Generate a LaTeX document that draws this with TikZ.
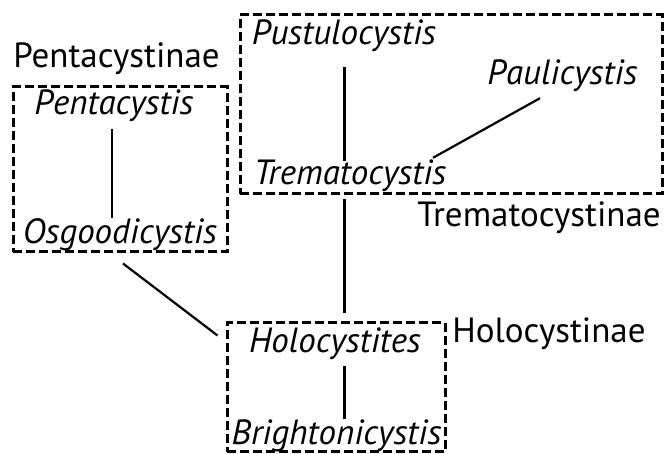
\documentclass[tikz,border=0pt]{standalone}
\usepackage{fontspec}
\setmainfont{PT Sans}
\usetikzlibrary{calc}
\tikzset{
  taxon/.style={font=\fontsize{35}{40}\selectfont\itshape,anchor=base,inner sep=0pt,text height=24pt,text depth=8pt},
  clade/.style={font=\fontsize{35}{40}\selectfont,anchor=base,inner sep=0pt},
  groupbox/.style={draw,dash pattern=on 9pt off 4pt,line width=3pt,inner sep=0pt},
  link/.style={line width=2.2pt}
}

\begin{document}
\begin{tikzpicture}[x=1pt,y=1pt,line cap=butt,line join=miter]
\useasboundingbox (0,0) rectangle (665,454);
% group boxes
\node[groupbox,minimum width=214pt,minimum height=165pt] (pentabox) at (120,284.5) {};
\node[groupbox,minimum width=422pt,minimum height=179pt] (tremabox) at (451,349.5) {};
\node[groupbox,minimum width=218pt,minimum height=129pt] (holobox) at (336,66.5) {};
% subfamily names
\node[clade] (pentacystinae) at (116.5,386) {Pentacystinae};
\node[clade] (trematocystinae) at (539,227) {Trematocystinae};
\node[clade] (holocystinae) at (549,111) {Holocystinae};
% genera
\node[taxon] (pentacystis) at (114,339) {Pentacystis};
\node[taxon] (osgoodicystis) at (120,210) {Osgoodicystis};
\node[taxon] (pustulocystis) at (344,409) {Pustulocystis};
\node[taxon] (paulicystis) at (562.5,369) {Paulicystis};
\node[taxon] (trematocystis) at (350,269) {Trematocystis};
\node[taxon] (holocystites) at (335,101) {Holocystites};
\node[taxon] (brightonicystis) at (336.5,9) {Brightonicystis};
\coordinate (trunk) at (344.5,0);
% links
\draw[link,shorten <=6pt,shorten >=2pt] ([xshift=-2pt]pentacystis.south) -- ([xshift=-8pt]osgoodicystis.north);
\draw[link,shorten <=14pt] (pustulocystis.south -| trunk) -- (trematocystis.north -| trunk);
\draw[link] ([shift={(-22.5pt,-5pt)}]paulicystis.south) -- ([shift={(83pt,3pt)}]trematocystis.north);
\draw[link,shorten <=4pt,shorten >=8pt] (tremabox.south -| trunk) -- (holobox.north -| trunk);
\draw[link] ([shift={(3pt,-10pt)}]pentabox.south) -- ([shift={(-8pt,-14pt)}]holobox.north west);
\draw[link,shorten <=5pt,shorten >=2pt] (holocystites.south -| trunk) -- (brightonicystis.north -| trunk);
\end{tikzpicture}
\end{document}
